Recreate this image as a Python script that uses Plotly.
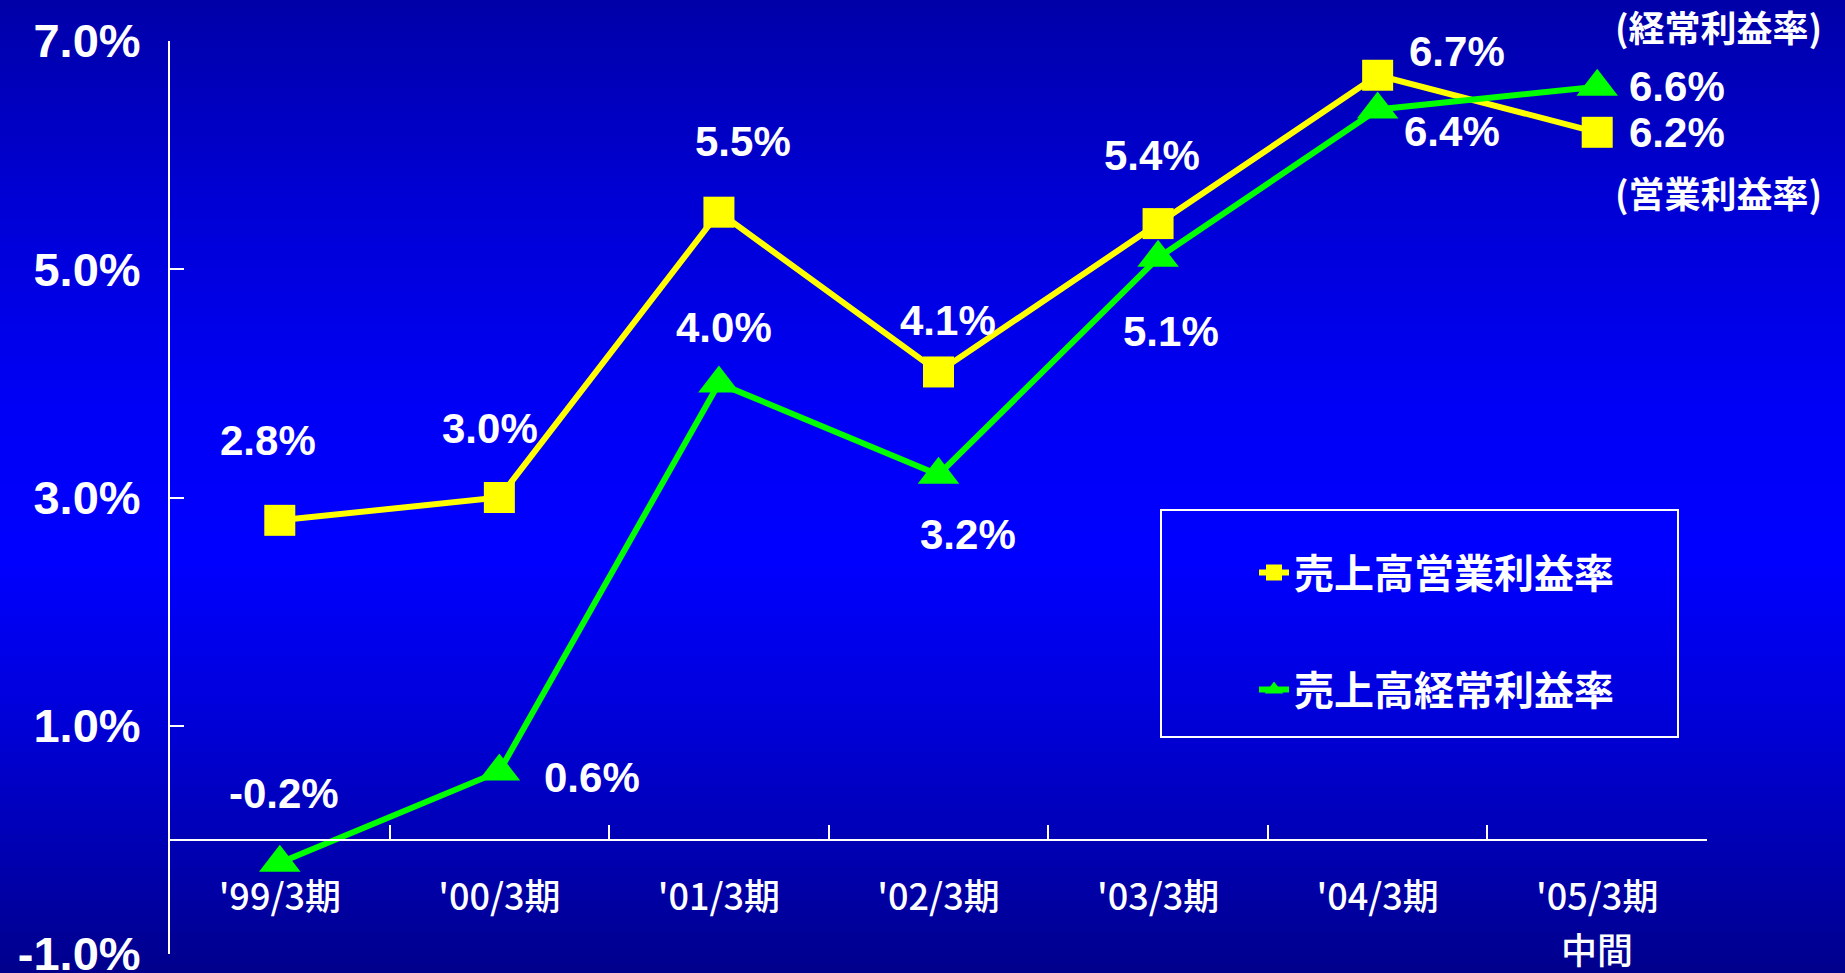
import plotly.graph_objects as go

# ---- data ----
categories = ["'99/3期", "'00/3期", "'01/3期", "'02/3期", "'03/3期", "'04/3期", "'05/3期"]
category_sublabels = ["", "", "", "", "", "", "中間"]
operating_margin = [2.8, 3.0, 5.5, 4.1, 5.4, 6.7, 6.2]      # 売上高営業利益率
ordinary_margin = [-0.2, 0.6, 4.0, 3.2, 5.1, 6.4, 6.6]      # 売上高経常利益率
series_names = ["売上高営業利益率", "売上高経常利益率"]
y_tickvals = [-1.0, 1.0, 3.0, 5.0, 7.0]
side_labels = ["(経常利益率)", "(営業利益率)"]

# label offsets in pixels (style only)
op_offsets = [(-12, 80), (-9, 69), (24, 71), (9, 51), (-6, 68), (79, 24), (80, 0)]
od_offsets = [(4, 69), (93, -6), (5, 56), (29, -60), (13, -74), (74, -22), (80, 0)]

W, H = 1845, 973
ML, MR, MT, MB = 170, 138, 41, 19
plot_w = W - ML - MR
plot_h = H - MT - MB

BOLD = "Liberation Sans, Arial, Noto Sans CJK JP, sans-serif"
CJK = "Noto Sans CJK JP, sans-serif"
YELLOW = "#FFFF00"
GREEN = "#00FF00"

fig = go.Figure()
fig.add_trace(go.Scatter(
    x=categories, y=operating_margin, name=series_names[0], mode="lines+markers",
    line=dict(color=YELLOW, width=6),
    marker=dict(symbol="square", size=31, color=YELLOW),
    legendgroup="a", cliponaxis=False,
))
fig.add_trace(go.Scatter(
    x=categories, y=ordinary_margin, name=series_names[1], mode="lines+markers",
    line=dict(color=GREEN, width=6),
    marker=dict(symbol="triangle-up", size=36, color=GREEN),
    legendgroup="b", cliponaxis=False,
))

annotations = []
for vals, offs in ((operating_margin, op_offsets), (ordinary_margin, od_offsets)):
    for c, v, (dx, dy) in zip(categories, vals, offs):
        annotations.append(dict(
            x=c, y=v, xref="x", yref="y", text=f"{v:.1f}%", showarrow=False,
            xshift=dx, yshift=dy, xanchor="center", yanchor="middle",
            font=dict(family=BOLD, size=42, color="white", weight="bold"),
        ))

def px_to_paper_x(px):
    return (px - ML) / plot_w

def px_to_paper_y(py):
    return (H - MB - py) / plot_h

for c, sub in zip(categories, category_sublabels):
    if sub:
        annotations.append(dict(x=c, y=px_to_paper_y(948), xref="x", yref="paper",
                                xanchor="center", yanchor="middle", text=sub, showarrow=False,
                                font=dict(family=CJK, size=36, color="white", weight=500)))

for lbl, py in zip(side_labels, (26, 192)):
    annotations.append(dict(x=px_to_paper_x(1718), y=px_to_paper_y(py), xref="paper", yref="paper",
                            xanchor="center", yanchor="middle",
                            text=lbl, showarrow=False,
                            font=dict(family=CJK, size=36, color="white", weight="bold")))

# background vertical gradient
stops = [(0, 168), (200, 212), (400, 245), (560, 255), (700, 222), (850, 178), (973, 140)]
def blue_at(py):
    for (y0, b0), (y1, b1) in zip(stops[:-1], stops[1:]):
        if y0 <= py <= y1:
            t = (py - y0) / (y1 - y0)
            return b0 + (b1 - b0) * t
    return stops[-1][1]

shapes = []
n = 120
step = H / n
for i in range(n):
    ytop = i * step - 1
    ybot = (i + 1) * step + 1
    b = int(round(blue_at((i + 0.5) * step)))
    shapes.append(dict(type="rect", xref="paper", yref="paper", layer="below",
                       x0=-0.2, x1=1.2, y0=px_to_paper_y(ybot), y1=px_to_paper_y(ytop),
                       line=dict(width=0), fillcolor=f"rgb(0,0,{b})"))
# legend border
shapes.append(dict(type="rect", xref="paper", yref="paper", layer="above",
                   x0=px_to_paper_x(1161), x1=px_to_paper_x(1678),
                   y0=px_to_paper_y(737), y1=px_to_paper_y(510),
                   line=dict(color="white", width=2), fillcolor="rgba(0,0,0,0)"))

fig.update_layout(
    width=W, height=H,
    margin=dict(l=ML, r=MR, t=MT, b=MB, pad=0, autoexpand=False),
    paper_bgcolor="rgb(0,0,150)",
    plot_bgcolor="rgba(0,0,0,0)",
    showlegend=True,
    legend=dict(
        x=px_to_paper_x(1254), y=px_to_paper_y(540), xanchor="left", yanchor="top",
        bgcolor="rgba(0,0,0,0)", borderwidth=0, tracegroupgap=62,
        font=dict(family=CJK, size=40, color="white", weight="bold"),
        traceorder="grouped",
    ),
    xaxis=dict(
        type="category", showgrid=False, zeroline=False, automargin=False,
        showline=True, linecolor="white", linewidth=2,
        anchor="free", position=0.125,
        ticks="inside", ticklen=14, tickwidth=2, tickcolor="white",
        tickson="boundaries", ticklabelstandoff=26,
        tickfont=dict(family=CJK, size=36, color="white", weight=500),
        range=[-0.5, 6.5],
    ),
    yaxis=dict(
        range=[-1, 7], showgrid=False, zeroline=False, automargin=False,
        showline=True, linecolor="white", linewidth=2,
        ticks="inside", ticklen=14, tickwidth=2, tickcolor="white",
        tickvals=y_tickvals, ticktext=[f"{v:.1f}%" for v in y_tickvals],
        ticklabelstandoff=18, ticklabeloverflow="allow",
        tickfont=dict(family=BOLD, size=47, color="white", weight="bold"),
    ),
    annotations=annotations,
    shapes=shapes,
)

fig.write_html("out.html", config={"displayModeBar": False},
               post_script="document.body.style.margin='0';document.body.style.overflow='hidden';")
